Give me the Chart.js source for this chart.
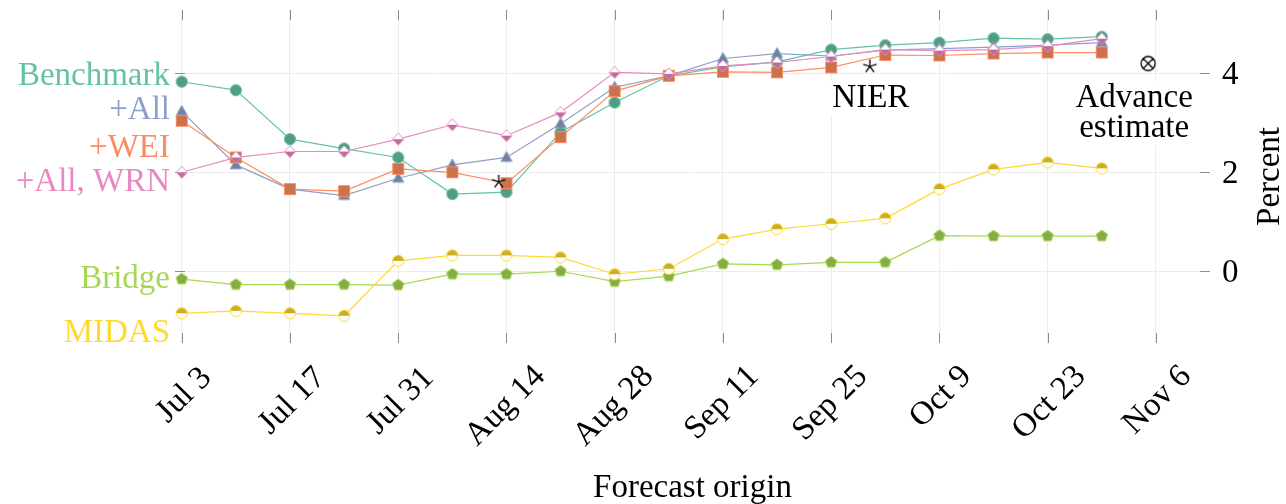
<!DOCTYPE html>
<html>
<head>
<meta charset="utf-8">
<script src="https://cdn.jsdelivr.net/npm/chart.js@4.4.1/dist/chart.umd.min.js"></script>
<style>
  html, body { margin: 0; background: #fff; }
</style>
</head>
<body>
<canvas id="forecastChart" width="1286" height="504"></canvas>
<script>
var FONT = '33px "Liberation Serif", "DejaVu Serif", serif';

// forecast origins (weekly) and the nowcasts made on each of them, percent
var origins = [
  "2023-07-03", "2023-07-10", "2023-07-17", "2023-07-24", "2023-07-31",
  "2023-08-07", "2023-08-14", "2023-08-21", "2023-08-28", "2023-09-04",
  "2023-09-11", "2023-09-18", "2023-09-25", "2023-10-02", "2023-10-09",
  "2023-10-16", "2023-10-23", "2023-10-30"
];
var benchmark = [3.83, 3.66, 2.67, 2.48, 2.30, 1.56, 1.60, 2.81, 3.41, 3.95, 4.13, 4.23, 4.48, 4.57, 4.62, 4.71, 4.69, 4.74];
var plusAll = [3.23, 2.15, 1.66, 1.53, 1.88, 2.15, 2.30, 2.98, 3.72, 3.95, 4.30, 4.40, 4.35, 4.47, 4.50, 4.53, 4.57, 4.62];
var plusWei = [3.04, 2.30, 1.66, 1.62, 2.07, 2.00, 1.78, 2.71, 3.64, 3.95, 4.03, 4.02, 4.12, 4.37, 4.36, 4.40, 4.42, 4.42];
var plusAllWrn = [2.00, 2.30, 2.42, 2.42, 2.67, 2.96, 2.74, 3.21, 4.02, 3.99, 4.15, 4.22, 4.34, 4.48, 4.46, 4.48, 4.55, 4.70];
var bridge = [-0.16, -0.27, -0.27, -0.27, -0.28, -0.06, -0.06, 0.00, -0.21, -0.10, 0.15, 0.13, 0.18, 0.18, 0.72, 0.71, 0.71, 0.71];
var midas = [-0.85, -0.80, -0.85, -0.90, 0.21, 0.32, 0.32, 0.28, -0.06, 0.05, 0.65, 0.85, 0.96, 1.07, 1.66, 2.06, 2.20, 2.08];

// NIER forecasts and the advance estimate
var nierDates = ["2023-08-13", "2023-09-30"];
var nierValues = [1.81, 4.14];
var advanceDates = ["2023-11-05"];
var advanceValues = [4.20];

// axis ticks
var tickDates = [
  "2023-07-03", "2023-07-17", "2023-07-31", "2023-08-14", "2023-08-28",
  "2023-09-11", "2023-09-25", "2023-10-09", "2023-10-23", "2023-11-06"
];
var tickLabels = ["Jul 3", "Jul 17", "Jul 31", "Aug 14", "Aug 28", "Sep 11", "Sep 25", "Oct 9", "Oct 23", "Nov 6"];
var yTicks = [0, 2, 4];

function day(s) {
  return (Date.parse(s) - Date.parse(origins[0])) / 86400000;
}

function points(dates, values) {
  return values.map(function (v, i) {
    return { x: day(dates[i]), y: v };
  });
}

// small canvases used as point styles
function marker(draw) {
  var c = document.createElement("canvas");
  c.width = 18;
  c.height = 18;
  var g = c.getContext("2d");
  g.translate(9, 9);
  g.lineWidth = 1;
  draw(g);
  return c;
}

function circleMark(fill, edge) {
  return marker(function (g) {
    g.beginPath();
    g.arc(0, 0, 5.6, 0, 2 * Math.PI);
    g.fillStyle = fill;
    g.fill();
    g.strokeStyle = edge;
    g.stroke();
  });
}

function triangleMark(fill, edge) {
  return marker(function (g) {
    g.beginPath();
    g.moveTo(0, -6);
    g.lineTo(5.6, 4);
    g.lineTo(-5.6, 4);
    g.closePath();
    g.fillStyle = fill;
    g.fill();
    g.strokeStyle = edge;
    g.stroke();
  });
}

function squareMark(fill, edge) {
  return marker(function (g) {
    g.fillStyle = fill;
    g.fillRect(-5.5, -5.5, 11, 11);
    g.strokeStyle = edge;
    g.strokeRect(-5.5, -5.5, 11, 11);
  });
}

function halfDiamondMark(fill, edge) {
  return marker(function (g) {
    g.beginPath();
    g.moveTo(-5.5, 0);
    g.lineTo(0, -6);
    g.lineTo(5.5, 0);
    g.closePath();
    g.fillStyle = "#fff";
    g.fill();
    g.beginPath();
    g.moveTo(-5.5, 0);
    g.lineTo(0, 6);
    g.lineTo(5.5, 0);
    g.closePath();
    g.fillStyle = fill;
    g.fill();
    g.beginPath();
    g.moveTo(0, -6);
    g.lineTo(5.5, 0);
    g.lineTo(0, 6);
    g.lineTo(-5.5, 0);
    g.closePath();
    g.strokeStyle = edge;
    g.stroke();
  });
}

function pentagonMark(fill, edge) {
  return marker(function (g) {
    g.beginPath();
    for (var i = 0; i < 5; i++) {
      var a = -Math.PI / 2 + i * 2 * Math.PI / 5;
      g.lineTo(6 * Math.cos(a), 6 * Math.sin(a));
    }
    g.closePath();
    g.fillStyle = fill;
    g.fill();
    g.strokeStyle = edge;
    g.stroke();
  });
}

function halfCircleMark(fill, edge) {
  return marker(function (g) {
    g.beginPath();
    g.arc(0, 0, 5.6, 0, 2 * Math.PI);
    g.fillStyle = "#fff";
    g.fill();
    g.beginPath();
    g.arc(0, 0, 5.6, Math.PI, 2 * Math.PI);
    g.closePath();
    g.fillStyle = fill;
    g.fill();
    g.beginPath();
    g.arc(0, 0, 5.6, 0, 2 * Math.PI);
    g.strokeStyle = edge;
    g.stroke();
  });
}

function starMark() {
  return marker(function (g) {
    g.beginPath();
    for (var i = 0; i < 5; i++) {
      var a = -Math.PI / 2 + i * 2 * Math.PI / 5;
      g.moveTo(0, 0);
      g.lineTo(7 * Math.cos(a), 7 * Math.sin(a));
    }
    g.lineWidth = 1.3;
    g.strokeStyle = "#000";
    g.stroke();
  });
}

function otimesMark() {
  return marker(function (g) {
    g.beginPath();
    g.arc(0, 0, 7, 0, 2 * Math.PI);
    var d = 7 * Math.SQRT1_2;
    g.moveTo(-d, -d);
    g.lineTo(d, d);
    g.moveTo(d, -d);
    g.lineTo(-d, d);
    g.lineWidth = 1.3;
    g.strokeStyle = "#000";
    g.stroke();
  });
}

function series(label, values, color, style, order) {
  return {
    label: label,
    data: points(origins, values),
    borderColor: color,
    backgroundColor: color,
    borderWidth: 1.2,
    pointStyle: style,
    pointRadius: 5,
    order: order
  };
}

var names = [
  { text: "Benchmark", color: "#66c2a5", at: 3.99 },
  { text: "+All", color: "#8da0cb", at: 3.30 },
  { text: "+WEI", color: "#fc8d62", at: 2.53 },
  { text: "+All, WRN", color: "#e78ac3", at: 1.84 },
  { text: "Bridge", color: "#a6d854", at: -0.12 },
  { text: "MIDAS", color: "#ffd92f", at: -1.21 }
];

function textBox(ctx, text, cx, baseline) {
  var w = ctx.measureText(text).width;
  ctx.fillStyle = "#fff";
  ctx.fillRect(cx - w / 2 - 3, baseline - 26, w + 6, 34);
  ctx.fillStyle = "#000";
  ctx.fillText(text, cx - w / 2, baseline);
}

var decorations = {
  id: "decorations",
  beforeDatasetsDraw: function (chart) {
    var ctx = chart.ctx;
    var area = chart.chartArea;
    var xs = chart.scales.x;
    var ys = chart.scales.y;
    ctx.save();

    // inward tick marks on all four sides
    ctx.strokeStyle = "#8c8c8c";
    ctx.lineWidth = 1;
    ctx.beginPath();
    tickDates.forEach(function (d) {
      var px = Math.round(xs.getPixelForValue(day(d))) + 0.5;
      ctx.moveTo(px, area.top);
      ctx.lineTo(px, area.top + 10);
      ctx.moveTo(px, area.bottom);
      ctx.lineTo(px, area.bottom - 10);
    });
    yTicks.forEach(function (v) {
      var py = Math.round(ys.getPixelForValue(v)) + 0.5;
      ctx.moveTo(area.left, py);
      ctx.lineTo(area.left + 10, py);
      ctx.moveTo(area.right, py);
      ctx.lineTo(area.right - 10, py);
    });
    ctx.stroke();

    ctx.font = FONT;
    ctx.textAlign = "left";
    ctx.textBaseline = "alphabetic";

    // annotations below the NIER and advance estimate marks
    var nx = xs.getPixelForValue(day(nierDates[1]));
    var ny = ys.getPixelForValue(nierValues[1]);
    textBox(ctx, "NIER", nx + 1, ny + 41);
    var ax = xs.getPixelForValue(day(advanceDates[0]));
    var ay = ys.getPixelForValue(advanceValues[0]);
    textBox(ctx, "Advance", ax - 14, ay + 44);
    textBox(ctx, "estimate", ax - 14, ay + 74);

    // series names on the left
    var capH = ctx.measureText("H").actualBoundingBoxAscent;
    ctx.textAlign = "right";
    names.forEach(function (n) {
      ctx.fillStyle = n.color;
      ctx.fillText(n.text, area.left - 5, ys.getPixelForValue(n.at) + capH / 2);
    });

    // y tick labels on the right
    ctx.fillStyle = "#000";
    ctx.textAlign = "left";
    yTicks.forEach(function (v) {
      var m = ctx.measureText(String(v));
      var py = ys.getPixelForValue(v);
      ctx.fillText(String(v), area.right + 12, py + (m.actualBoundingBoxAscent - m.actualBoundingBoxDescent) / 2);
    });

    // rotated x tick labels, bounding box top-centred under each tick
    tickDates.forEach(function (d, i) {
      var label = tickLabels[i];
      var m = ctx.measureText(label);
      var a = m.actualBoundingBoxAscent;
      var dd = m.actualBoundingBoxDescent;
      var w = m.width;
      var px = xs.getPixelForValue(day(d));
      var cy = area.bottom + 19 + (w + a + dd) / (2 * Math.SQRT2);
      ctx.save();
      ctx.translate(px, cy);
      ctx.rotate(-Math.PI / 4);
      ctx.fillText(label, -w / 2, (a - dd) / 2);
      ctx.restore();
    });

    // axis titles
    ctx.textAlign = "center";
    ctx.fillText("Forecast origin", (area.left + area.right) / 2, 497);
    ctx.save();
    ctx.translate(1279, (area.top + area.bottom) / 2);
    ctx.rotate(-Math.PI / 2);
    ctx.fillText("Percent", 0, 0);
    ctx.restore();

    ctx.restore();
  }
};

var ctx = document.getElementById("forecastChart").getContext("2d");

var forecastChart = new Chart(ctx, {
  type: "line",
  data: {
    datasets: [
      series("Benchmark", benchmark, "#66c2a5", circleMark("#529b84", "#66c2a5"), 6),
      series("+All", plusAll, "#8da0cb", triangleMark("#7180a2", "#8da0cb"), 5),
      series("+WEI", plusWei, "#fc8d62", squareMark("#ca714e", "#fc8d62"), 4),
      series("+All, WRN", plusAllWrn, "#e78ac3", halfDiamondMark("#b96e9c", "#e78ac3"), 3),
      series("Bridge", bridge, "#a6d854", pentagonMark("#85ad43", "#a6d854"), 2),
      series("MIDAS", midas, "#ffd92f", halfCircleMark("#ccae26", "#ffd92f"), 1),
      {
        label: "NIER",
        data: points(nierDates, nierValues),
        showLine: false,
        pointStyle: starMark(),
        pointRadius: 6,
        order: 0
      },
      {
        label: "Advance estimate",
        data: points(advanceDates, advanceValues),
        showLine: false,
        pointStyle: otimesMark(),
        pointRadius: 6,
        order: 0
      }
    ]
  },
  options: {
    responsive: false,
    animation: false,
    devicePixelRatio: 1,
    layout: {
      padding: { left: 175, right: 76, top: 10, bottom: 161 }
    },
    plugins: {
      legend: { display: false },
      tooltip: { enabled: false }
    },
    elements: {
      line: { tension: 0 }
    },
    scales: {
      x: {
        type: "linear",
        min: -0.87,
        max: 133,
        afterBuildTicks: function (axis) {
          axis.ticks = tickDates.map(function (d) { return { value: day(d) }; });
        },
        afterFit: function (axis) { axis.height = 0; },
        ticks: { display: false },
        grid: { color: "#ececec", lineWidth: 1, drawTicks: false },
        border: { display: false }
      },
      y: {
        position: "right",
        min: -1.45,
        max: 5.28,
        afterBuildTicks: function (axis) {
          axis.ticks = yTicks.map(function (v) { return { value: v }; });
        },
        afterFit: function (axis) { axis.width = 0; },
        ticks: { display: false },
        grid: { color: "#ececec", lineWidth: 1, drawTicks: false },
        border: { display: false }
      }
    }
  },
  plugins: [decorations]
});
</script>
</body>
</html>
